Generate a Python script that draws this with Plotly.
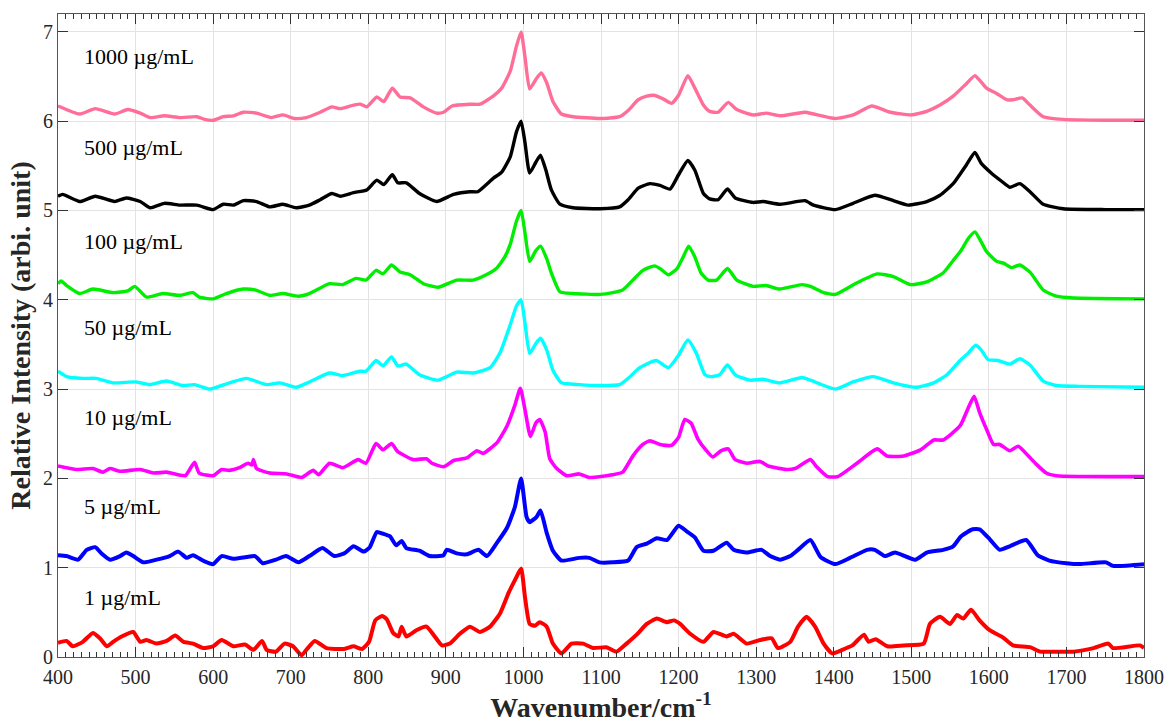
import plotly.graph_objects as go

# ---------------- data ----------------
wn_1000 = [400,428,448,473,490,506,519,537,557,579,589,600,613,626,639,656,675,690,705,720,738,753,764,781,790,798,811,820,831,841,854,871,888,897,908,931,944,961,972,983,991,997,1002,1008,1017,1023,1030,1038,1049,1064,1099,1124,1135,1148,1159,1168,1180,1191,1200,1212,1221,1232,1240,1251,1264,1275,1296,1313,1331,1363,1374,1402,1425,1449,1473,1500,1520,1537,1554,1571,1582,1588,1597,1610,1623,1631,1643,1653,1670,1696,1750,1800]
int_1000 = [6.17,6.08,6.14,6.08,6.13,6.09,6.04,6.06,6.04,6.05,6.02,6.01,6.05,6.06,6.10,6.09,6.04,6.07,6.03,6.04,6.10,6.16,6.14,6.18,6.19,6.16,6.27,6.22,6.37,6.27,6.26,6.16,6.09,6.10,6.17,6.19,6.19,6.28,6.37,6.56,6.84,7.00,6.72,6.36,6.48,6.54,6.43,6.22,6.08,6.05,6.03,6.05,6.12,6.24,6.28,6.29,6.25,6.20,6.29,6.51,6.37,6.18,6.11,6.10,6.21,6.13,6.07,6.09,6.06,6.10,6.08,6.03,6.07,6.17,6.10,6.07,6.11,6.18,6.28,6.42,6.51,6.46,6.37,6.31,6.24,6.24,6.26,6.18,6.05,6.02,6.01,6.01]

wn_500 = [400,406,428,448,473,488,506,519,537,557,579,600,613,626,639,656,673,690,707,724,738,753,764,781,798,811,820,831,838,849,866,888,910,931,941,961,972,983,991,997,1002,1008,1016,1022,1029,1036,1047,1064,1099,1124,1135,1148,1163,1176,1189,1200,1212,1221,1232,1240,1251,1263,1273,1296,1309,1331,1363,1374,1402,1425,1453,1477,1496,1520,1537,1554,1571,1582,1590,1603,1616,1627,1640,1653,1670,1696,1750,1800]
int_500 = [5.16,5.18,5.10,5.16,5.10,5.14,5.10,5.03,5.08,5.06,5.06,5.01,5.07,5.06,5.11,5.10,5.04,5.07,5.03,5.06,5.12,5.19,5.16,5.20,5.23,5.34,5.29,5.40,5.31,5.31,5.19,5.10,5.18,5.21,5.21,5.36,5.43,5.60,5.88,6.00,5.76,5.42,5.54,5.62,5.45,5.23,5.07,5.03,5.02,5.04,5.12,5.25,5.30,5.28,5.24,5.40,5.56,5.45,5.19,5.13,5.12,5.24,5.14,5.09,5.10,5.07,5.11,5.06,5.01,5.08,5.17,5.11,5.06,5.10,5.17,5.30,5.51,5.65,5.53,5.42,5.33,5.26,5.30,5.21,5.07,5.02,5.01,5.01]

wn_100 = [400,404,411,428,445,471,490,499,514,535,557,574,582,600,617,639,654,673,690,710,724,750,767,784,797,810,819,830,841,854,871,890,914,935,952,965,976,983,991,997,1002,1008,1016,1022,1030,1036,1047,1064,1099,1115,1128,1141,1154,1169,1176,1187,1198,1206,1213,1221,1229,1238,1249,1263,1275,1296,1313,1330,1359,1370,1387,1402,1430,1456,1477,1499,1520,1541,1554,1564,1573,1582,1590,1597,1610,1619,1629,1640,1653,1670,1687,1709,1800]
int_100 = [4.18,4.21,4.16,4.07,4.12,4.08,4.10,4.15,4.03,4.07,4.05,4.08,4.03,4.01,4.07,4.12,4.11,4.05,4.07,4.04,4.07,4.18,4.17,4.24,4.22,4.33,4.29,4.39,4.31,4.28,4.18,4.14,4.22,4.22,4.28,4.35,4.48,4.62,4.88,5.00,4.75,4.43,4.55,4.60,4.46,4.30,4.09,4.07,4.06,4.08,4.11,4.22,4.33,4.38,4.35,4.28,4.35,4.48,4.60,4.48,4.30,4.22,4.22,4.35,4.22,4.15,4.16,4.12,4.17,4.15,4.08,4.06,4.19,4.29,4.26,4.17,4.20,4.30,4.44,4.55,4.68,4.76,4.65,4.54,4.43,4.41,4.36,4.39,4.31,4.11,4.04,4.02,4.01]

wn_50 = [400,411,432,449,471,501,518,540,561,576,596,621,643,669,686,707,724,750,767,789,797,810,819,830,838,849,866,890,914,935,957,970,983,991,997,1002,1008,1016,1022,1030,1038,1049,1072,1099,1124,1135,1150,1171,1187,1200,1212,1223,1234,1242,1253,1263,1273,1292,1309,1330,1359,1370,1402,1425,1451,1477,1507,1529,1546,1563,1573,1583,1590,1599,1612,1627,1640,1653,1670,1687,1717,1800]
int_50 = [3.20,3.14,3.12,3.12,3.07,3.08,3.05,3.09,3.04,3.05,3.00,3.07,3.12,3.05,3.07,3.02,3.08,3.18,3.15,3.20,3.20,3.32,3.26,3.36,3.26,3.28,3.16,3.10,3.19,3.18,3.24,3.41,3.72,3.93,4.00,3.74,3.40,3.51,3.57,3.44,3.21,3.07,3.05,3.04,3.05,3.12,3.24,3.32,3.24,3.38,3.55,3.40,3.16,3.14,3.16,3.27,3.16,3.10,3.11,3.07,3.13,3.10,3.00,3.08,3.14,3.07,3.02,3.07,3.16,3.32,3.40,3.49,3.44,3.33,3.32,3.28,3.34,3.27,3.09,3.04,3.03,3.02]

wn_10 = [400,424,445,458,467,480,506,523,540,564,576,582,600,611,621,634,645,650,652,656,673,695,714,729,736,750,767,787,797,810,819,830,838,858,875,882,897,910,927,940,948,966,979,989,996,1002,1009,1016,1021,1028,1034,1043,1056,1072,1085,1115,1128,1141,1154,1163,1176,1191,1200,1208,1216,1225,1234,1244,1255,1264,1273,1288,1305,1315,1339,1350,1370,1378,1392,1405,1430,1456,1469,1490,1512,1529,1541,1563,1573,1581,1588,1597,1606,1614,1627,1638,1651,1661,1674,1687,1800]
int_10 = [2.14,2.10,2.11,2.07,2.11,2.08,2.10,2.06,2.07,2.03,2.18,2.06,2.03,2.10,2.09,2.12,2.17,2.15,2.21,2.11,2.06,2.05,2.01,2.09,2.04,2.17,2.12,2.21,2.17,2.39,2.32,2.39,2.30,2.21,2.22,2.17,2.13,2.20,2.23,2.31,2.28,2.40,2.59,2.82,3.01,2.77,2.47,2.62,2.66,2.52,2.22,2.11,2.03,2.05,2.01,2.04,2.07,2.25,2.38,2.42,2.38,2.37,2.46,2.66,2.62,2.44,2.33,2.24,2.31,2.33,2.21,2.17,2.19,2.14,2.10,2.11,2.21,2.13,2.02,2.02,2.17,2.33,2.25,2.25,2.32,2.43,2.43,2.59,2.78,2.92,2.74,2.55,2.38,2.38,2.31,2.36,2.25,2.16,2.06,2.03,2.02]

wn_5 = [400,411,426,437,448,456,467,480,488,497,510,527,544,555,566,574,589,600,611,626,643,654,664,681,694,710,724,741,756,769,781,794,802,811,819,828,836,843,849,866,879,897,901,914,927,942,953,966,979,989,997,1004,1008,1017,1022,1030,1038,1049,1072,1085,1098,1115,1135,1146,1159,1172,1185,1200,1210,1221,1232,1245,1262,1271,1288,1307,1318,1331,1344,1354,1370,1383,1402,1421,1443,1453,1466,1479,1505,1520,1541,1554,1564,1579,1588,1601,1614,1627,1648,1663,1678,1700,1717,1751,1760,1800]
int_5 = [1.14,1.13,1.09,1.20,1.23,1.16,1.09,1.13,1.17,1.13,1.06,1.09,1.13,1.18,1.11,1.14,1.07,1.04,1.13,1.10,1.12,1.13,1.05,1.09,1.13,1.06,1.13,1.22,1.13,1.16,1.24,1.18,1.23,1.40,1.38,1.35,1.25,1.30,1.22,1.19,1.13,1.14,1.20,1.16,1.15,1.20,1.13,1.28,1.45,1.68,2.00,1.57,1.51,1.57,1.64,1.39,1.19,1.08,1.11,1.11,1.06,1.06,1.08,1.23,1.27,1.33,1.31,1.47,1.41,1.34,1.19,1.19,1.28,1.20,1.17,1.20,1.13,1.09,1.13,1.20,1.31,1.12,1.04,1.11,1.20,1.20,1.13,1.17,1.09,1.17,1.20,1.24,1.35,1.43,1.43,1.32,1.20,1.24,1.31,1.14,1.08,1.05,1.04,1.06,1.02,1.04]

wn_1 = [400,411,419,432,445,454,463,471,482,497,506,514,527,540,551,562,574,587,600,611,626,641,652,663,669,681,692,703,714,722,731,746,769,781,792,801,809,818,824,832,839,843,849,862,875,884,895,905,918,931,944,957,970,981,989,997,1002,1008,1015,1021,1030,1038,1049,1062,1077,1090,1107,1120,1133,1146,1159,1172,1185,1194,1202,1215,1232,1245,1262,1271,1288,1305,1320,1328,1344,1354,1365,1376,1387,1398,1411,1424,1439,1445,1454,1469,1490,1516,1524,1537,1550,1559,1567,1577,1588,1601,1618,1631,1653,1666,1687,1709,1735,1754,1760,1795,1800]
int_1 = [0.16,0.18,0.12,0.17,0.27,0.21,0.12,0.17,0.23,0.28,0.17,0.19,0.15,0.18,0.24,0.17,0.15,0.10,0.12,0.19,0.12,0.14,0.08,0.18,0.08,0.06,0.15,0.12,0.02,0.10,0.18,0.10,0.09,0.12,0.09,0.17,0.41,0.46,0.42,0.27,0.23,0.34,0.23,0.30,0.34,0.25,0.13,0.15,0.26,0.34,0.28,0.34,0.49,0.72,0.86,0.99,0.67,0.37,0.35,0.39,0.34,0.15,0.04,0.15,0.15,0.10,0.11,0.06,0.15,0.25,0.37,0.43,0.39,0.41,0.37,0.26,0.17,0.28,0.23,0.26,0.15,0.19,0.21,0.10,0.17,0.34,0.45,0.34,0.15,0.04,0.08,0.13,0.25,0.17,0.20,0.12,0.13,0.15,0.37,0.45,0.37,0.47,0.43,0.53,0.41,0.30,0.22,0.13,0.11,0.06,0.06,0.06,0.10,0.15,0.10,0.13,0.10]

labels = ["1000 µg/mL", "500 µg/mL", "100 µg/mL", "50 µg/mL", "10 µg/mL", "5 µg/mL", "1 µg/mL"]
label_y = [6.72, 5.70, 4.65, 3.69, 2.68, 1.69, 0.67]
colors = ["#FF6E99", "#000000", "#00EE00", "#00FFFF", "#FF00FF", "#0000FF", "#FF0000"]
series_x = [wn_1000, wn_500, wn_100, wn_50, wn_10, wn_5, wn_1]
series_y = [int_1000, int_500, int_100, int_50, int_10, int_5, int_1]
widths = [3.4, 3.4, 3.4, 3.4, 3.6, 4.0, 4.0]

x_ticks = list(range(400, 1801, 100))
y_ticks = list(range(0, 8))

FONT = "Liberation Serif"

fig = go.Figure()
for xs, ys, c, w, name in zip(series_x, series_y, colors, widths, labels):
    fig.add_trace(go.Scatter(x=xs, y=ys, mode="lines", name=name,
                             line=dict(color=c, width=w, shape="spline", smoothing=0.5),
                             showlegend=False))

for txt, yv in zip(labels, label_y):
    fig.add_annotation(x=431, y=yv, text=txt, showarrow=False, xanchor="left", yanchor="middle",
                       font=dict(family=FONT, size=22, color="#000000"))

axis_common = dict(showline=True, linecolor="#555555", linewidth=1, mirror="ticks",
                   showgrid=True, gridcolor="#E3E3E3", gridwidth=1, zeroline=False,
                   ticks="inside", tickcolor="#333333", ticklen=10, tickwidth=1,
                   tickfont=dict(family=FONT, size=20, color="#262626"))

fig.update_xaxes(range=[400, 1800], tickvals=x_ticks, ticktext=[str(v) for v in x_ticks],
                 ticklabelstandoff=2,
                 minor=dict(dtick=10, tick0=400, ticks="inside", ticklen=5, tickcolor="#333333", showgrid=False),
                 title=dict(text="<b>Wavenumber/cm<sup>-1</sup></b>", font=dict(family=FONT, size=28, color="#262626"), standoff=8),
                 **axis_common)
fig.update_yaxes(range=[0, 7.2], tickvals=y_ticks, ticktext=[str(v) for v in y_ticks],
                 title=dict(text="<b>Relative Intensity (arbi. unit)</b>", font=dict(family=FONT, size=28, color="#262626"), standoff=4),
                 **axis_common)

fig.update_layout(width=1168, height=726, margin=dict(l=58, r=24, t=14, b=69, autoexpand=False),
                  plot_bgcolor="white", paper_bgcolor="white")
fig.update_xaxes(automargin=False)
fig.update_yaxes(automargin=False)

fig.write_html("out.html")
